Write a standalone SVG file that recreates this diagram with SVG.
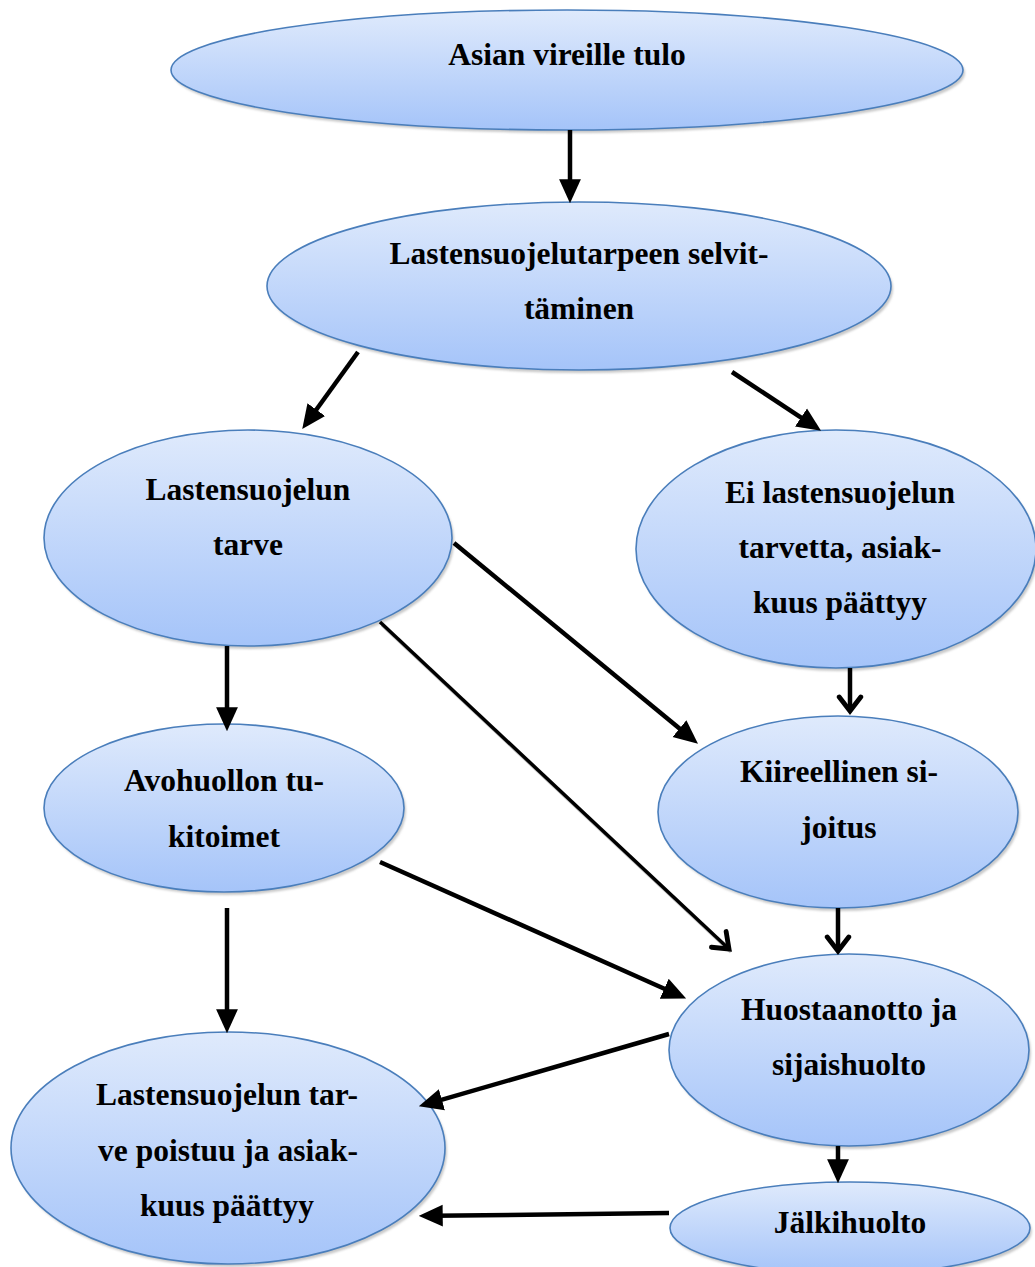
<svg xmlns="http://www.w3.org/2000/svg" width="1035" height="1267" viewBox="0 0 1035 1267">
<style>
.node{fill:url(#g);stroke:#4a7ebb;stroke-width:1.6}
.sh{fill:#c9c9c9;filter:url(#blur)}
.t{font-family:"Liberation Serif","Times New Roman",serif;font-weight:bold;font-size:31.5px;fill:#000;text-anchor:middle}
.c{stroke:#000;stroke-width:4.5;fill:none}
.thin{stroke-width:3.5}
</style>
<defs>
<linearGradient id="g" x1="0" y1="0" x2="0" y2="1">
<stop offset="0" stop-color="#dfeafc"/>
<stop offset="1" stop-color="#a5c4f9"/>
</linearGradient>
<filter id="blur" x="-10%" y="-10%" width="120%" height="120%"><feGaussianBlur stdDeviation="1.2"/></filter>
<marker id="ah" markerUnits="userSpaceOnUse" markerWidth="24" markerHeight="24" viewBox="0 0 22 22" refX="8" refY="11" orient="auto">
<path d="M0,1 L22,11 L0,21 z" fill="#000"/>
</marker>
<marker id="av" markerUnits="userSpaceOnUse" markerWidth="28" markerHeight="28" viewBox="0 0 22 26" refX="16" refY="13" orient="auto">
<path d="M3,3 L16,13 L3,23" fill="none" stroke="#000" stroke-width="4.5" stroke-linecap="round" stroke-linejoin="miter"/>
</marker>
</defs>

<g id="n1">
<ellipse class="sh" cx="569" cy="73" rx="396" ry="60"/>
<ellipse class="node" cx="567" cy="70" rx="396" ry="60"/>
<text class="t" x="567" y="65">Asian vireille tulo</text>
</g>
<g id="n2">
<ellipse class="sh" cx="581" cy="289" rx="312" ry="84"/>
<ellipse class="node" cx="579" cy="286" rx="312" ry="84"/>
<text class="t" x="579" y="264">Lastensuojelutarpeen selvit-</text>
<text class="t" x="579" y="319">täminen</text>
</g>
<g id="n3">
<ellipse class="sh" cx="250" cy="541" rx="204" ry="108"/>
<ellipse class="node" cx="248" cy="538" rx="204" ry="108"/>
<text class="t" x="248" y="500">Lastensuojelun</text>
<text class="t" x="248" y="555">tarve</text>
</g>
<g id="n4">
<ellipse class="sh" cx="838" cy="552" rx="200" ry="119"/>
<ellipse class="node" cx="836" cy="549" rx="200" ry="119"/>
<text class="t" x="840" y="503">Ei lastensuojelun</text>
<text class="t" x="840" y="558">tarvetta, asiak-</text>
<text class="t" x="840" y="613">kuus päättyy</text>
</g>
<g id="n5">
<ellipse class="sh" cx="226" cy="811" rx="180" ry="84"/>
<ellipse class="node" cx="224" cy="808" rx="180" ry="84"/>
<text class="t" x="224" y="791">Avohuollon tu-</text>
<text class="t" x="224" y="847">kitoimet</text>
</g>
<g id="n6">
<ellipse class="sh" cx="840" cy="815" rx="180" ry="96"/>
<ellipse class="node" cx="838" cy="812" rx="180" ry="96"/>
<text class="t" x="839" y="782">Kiireellinen si-</text>
<text class="t" x="839" y="838">joitus</text>
</g>
<g id="n7">
<ellipse class="sh" cx="851" cy="1053" rx="180" ry="96"/>
<ellipse class="node" cx="849" cy="1050" rx="180" ry="96"/>
<text class="t" x="849" y="1020">Huostaanotto ja</text>
<text class="t" x="849" y="1075">sijaishuolto</text>
</g>
<g id="n8">
<ellipse class="sh" cx="230" cy="1151" rx="217" ry="116"/>
<ellipse class="node" cx="228" cy="1148" rx="217" ry="116"/>
<text class="t" x="227" y="1105">Lastensuojelun tar-</text>
<text class="t" x="228" y="1161">ve poistuu ja asiak-</text>
<text class="t" x="227" y="1216">kuus päättyy</text>
</g>
<g id="n9">
<ellipse class="sh" cx="852" cy="1231" rx="180" ry="46"/>
<ellipse class="node" cx="850" cy="1228" rx="180" ry="46"/>
<text class="t" x="850" y="1233">Jälkihuolto</text>
</g>

<g id="connectors">
<line class="c" x1="570" y1="130" x2="570" y2="188" marker-end="url(#ah)"/>
<line class="c" x1="358" y1="352" x2="311.2" y2="416.7" marker-end="url(#ah)"/>
<line class="c" x1="732" y1="372" x2="808.3" y2="422.3" marker-end="url(#ah)"/>
<line class="c" x1="227" y1="646" x2="227" y2="716" marker-end="url(#ah)"/>
<line class="c" x1="850" y1="668" x2="850" y2="711" marker-end="url(#av)"/>
<line class="c" x1="454" y1="543" x2="686.2" y2="734.1" marker-end="url(#ah)"/>
<line x1="382" y1="625" x2="731" y2="952" stroke="#c8c8c8" stroke-width="3.5"/>
<line class="c thin" x1="380" y1="622" x2="729" y2="949" marker-end="url(#av)"/>
<line class="c" x1="380" y1="862" x2="672.2" y2="992.3" marker-end="url(#ah)"/>
<line class="c" x1="227" y1="908" x2="227" y2="1018" marker-end="url(#ah)"/>
<line class="c" x1="838" y1="908" x2="838" y2="951" marker-end="url(#av)"/>
<line class="c" x1="669" y1="1034" x2="433.5" y2="1102.1" marker-end="url(#ah)"/>
<line class="c" x1="669" y1="1213" x2="434" y2="1215.8" marker-end="url(#ah)"/>
<line class="c" x1="838" y1="1146" x2="838" y2="1168" marker-end="url(#ah)"/>
</g>
</svg>
